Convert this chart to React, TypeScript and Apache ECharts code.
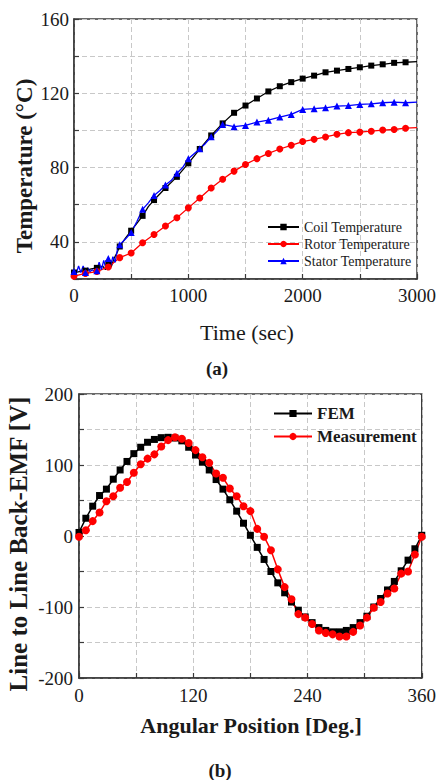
import React, { useEffect, useRef } from "react";
import * as echarts from "echarts";

// ---------- (a) temperature data ----------
const coilTime = [0, 50, 100, 150, 200, 250, 275, 300, 325, 350, 375, 400, 450, 500, 550, 600, 650, 700, 800, 900, 1000, 1100, 1200, 1300, 1400, 1500, 1600, 1700, 1800, 1900, 2000, 2100, 2200, 2300, 2400, 2500, 2600, 2700, 2800, 2900, 3000];
const coilTemp = [23.5, 24, 24.5, 25.5, 26, 27, 25, 28.5, 26.5, 31, 34, 37.5, 42, 46, 50, 54, 59, 62.5, 69, 75, 82.3, 90, 97.3, 103.8, 109.5, 113.4, 117.2, 121, 123.8, 126, 127.9, 129.5, 131.3, 132.2, 133.1, 134, 134.9, 135.6, 136.4, 136.7, 137];

const rotorTime = [0, 100, 200, 300, 400, 500, 600, 700, 800, 900, 1000, 1100, 1200, 1300, 1400, 1500, 1600, 1700, 1800, 1900, 2000, 2100, 2200, 2300, 2400, 2500, 2600, 2700, 2800, 2900, 3000];
const rotorTemp = [21.5, 23, 24, 26.5, 31.5, 34, 39.5, 44, 48.5, 53, 58.3, 63.6, 69, 73.7, 78.1, 81.7, 84.8, 87.6, 90, 92, 94, 95.2, 96.5, 97.9, 98.8, 99.1, 99.6, 100.2, 100.5, 101.2, 101.5];

const statorTime = [0, 20, 40, 60, 80, 100, 120, 140, 160, 180, 200, 220, 240, 260, 280, 300, 320, 340, 360, 380, 400, 450, 500, 550, 600, 650, 700, 750, 800, 850, 900, 950, 1000, 1050, 1100, 1150, 1200, 1250, 1300, 1400, 1500, 1600, 1700, 1800, 1900, 2000, 2100, 2200, 2300, 2400, 2500, 2600, 2700, 2800, 2900, 3000];
const statorTemp = [24, 23, 27, 23.5, 27, 23.5, 26, 24, 25, 24, 24.5, 29, 25, 30, 25.5, 31, 27, 32, 29, 36, 38.5, 41.5, 45, 51, 57.5, 61, 65, 67.5, 70.6, 73, 76.9, 80, 84.8, 87.5, 90.1, 93, 96.6, 99.5, 103.2, 102, 102.7, 104.5, 105.5, 107.2, 108.6, 111.3, 111.7, 112.2, 113.1, 113.4, 114, 114.3, 114.9, 115.2, 114.9, 115.2];

const tempXTicks = [0, 1000, 2000, 3000];
const tempYTicks = [40, 80, 120, 160];

// ---------- (b) back-EMF data ----------
const angles = [0, 7.2, 14.4, 21.6, 28.8, 36, 43.2, 50.4, 57.6, 64.8, 72, 79.2, 86.4, 93.6, 100.8, 108, 115.2, 122.4, 129.6, 136.8, 144, 151.2, 158.4, 165.6, 172.8, 180, 187.2, 194.4, 201.6, 208.8, 216, 223.2, 230.4, 237.6, 244.8, 252, 259.2, 266.4, 273.6, 280.8, 288, 295.2, 302.4, 309.6, 316.8, 324, 331.2, 338.4, 345.6, 352.8, 360];
const femEmf = [5, 25, 42, 57, 66, 80, 93, 105, 116, 125, 132, 136, 138.5, 139, 138, 134, 125, 114, 104, 93, 79.5, 66, 51, 35, 18, 1, -16, -33, -50, -66, -80, -93, -104.5, -114, -122, -129, -133, -135, -135, -133, -129, -122, -113, -100, -88, -76, -64, -49, -34, -18, 1];
const measEmf = [-1, 8, 21, 33, 49, 56, 68, 76, 89, 101, 109, 115, 126, 135, 139, 137, 131, 121, 111, 103, 88, 82, 67, 56, 42, 35, 10, -1, -20, -47, -72, -89, -110, -115, -124, -133, -136.5, -138.5, -141.5, -141.5, -135, -126, -115, -101, -93, -81, -74, -53, -50, -26, -1];

const emfXTicks = [0, 120, 240, 360];
const emfYTicks = [-200, -100, 0, 100, 200];

const FONT = '"Liberation Serif", "Times New Roman", Times, serif';
const TXT = "#1a1a1a";
const FRAME = "#3a3a3a";

function markedData(times: number[], vals: number[], sym: string, every: number, last: number) {
  return times.map((t, i) => ({
    value: [t, vals[i]],
    symbol: t % every === 0 && t < last ? sym : "none",
  }));
}

function axisCommon(gridIndex: number, min: number, max: number, interval: number, ticks: number[], margin: number) {
  return {
    type: "value",
    gridIndex,
    min,
    max,
    interval,
    axisLine: { show: true, onZero: false, lineStyle: { color: FRAME, width: 1.5 } },
    axisTick: { show: true, inside: true, length: 5, lineStyle: { color: FRAME, width: 1.2 } },
    axisLabel: {
      fontFamily: FONT,
      fontSize: 19,
      color: TXT,
      margin,
      showMinLabel: true,
      showMaxLabel: true,
      formatter: (v: number) => (ticks.indexOf(v) >= 0 ? String(v) : ""),
    },
    splitLine: { show: true, lineStyle: { color: "#c8c8c8", width: 1, type: [5, 3] } },
  };
}

export default function App() {
  const ref = useRef<HTMLDivElement>(null);
  useEffect(() => {
    document.body.style.margin = "0";
    if (!ref.current) return;
    const chart = echarts.init(ref.current, undefined, { renderer: "svg" });
    const option: any = {
      animation: false,
      backgroundColor: "#ffffff",
      grid: [
        { left: 74, top: 19, width: 344, height: 260, show: true, borderColor: FRAME, borderWidth: 1.5, backgroundColor: "transparent" },
        { left: 79, top: 394, width: 344, height: 284, show: true, borderColor: FRAME, borderWidth: 1.5, backgroundColor: "transparent" },
      ],
      xAxis: [
        axisCommon(0, 0, 3000, 500, tempXTicks, 7),
        axisCommon(1, 0, 360, 60, emfXTicks, 8),
      ],
      yAxis: [
        axisCommon(0, 20, 160, 20, tempYTicks, 5),
        axisCommon(1, -200, 200, 50, emfYTicks, 6),
      ],
      legend: [
        {
          data: ["Coil Temperature", "Rotor Temperature", "Stator Temperature"],
          orient: "vertical",
          left: 262,
          top: 215,
          itemWidth: 31,
          itemHeight: 8,
          itemGap: 3,
          textStyle: { fontFamily: FONT, fontSize: 14, color: TXT },
        },
        {
          data: ["FEM", "Measurement"],
          orient: "vertical",
          left: 268,
          top: 400,
          itemWidth: 38,
          itemHeight: 9,
          itemGap: 6,
          textStyle: { fontFamily: FONT, fontSize: 17, fontWeight: "bold", color: TXT },
        },
      ],
      series: [
        {
          name: "Coil Temperature",
          type: "line",
          xAxisIndex: 0,
          yAxisIndex: 0,
          data: markedData(coilTime, coilTemp, "rect", 100, 3000),
          symbol: "rect",
          symbolSize: 6,
          showAllSymbol: true,
          color: "#000000",
          lineStyle: { color: "#000000", width: 1.3 },
          itemStyle: { color: "#000000" },
        },
        {
          name: "Rotor Temperature",
          type: "line",
          xAxisIndex: 0,
          yAxisIndex: 0,
          data: markedData(rotorTime, rotorTemp, "circle", 100, 3000),
          symbol: "circle",
          symbolSize: 7,
          showAllSymbol: true,
          color: "#ff0000",
          lineStyle: { color: "#ff0000", width: 1.3 },
          itemStyle: { color: "#ff0000" },
        },
        {
          name: "Stator Temperature",
          type: "line",
          xAxisIndex: 0,
          yAxisIndex: 0,
          data: markedData(statorTime, statorTemp, "triangle", 100, 3000),
          symbol: "triangle",
          symbolSize: 7,
          showAllSymbol: true,
          color: "#0000ff",
          lineStyle: { color: "#0000ff", width: 1.3 },
          itemStyle: { color: "#0000ff" },
        },
        {
          name: "FEM",
          type: "line",
          xAxisIndex: 1,
          yAxisIndex: 1,
          data: angles.map((a, i) => [a, femEmf[i]]),
          symbol: "rect",
          symbolSize: 7,
          showAllSymbol: true,
          color: "#000000",
          lineStyle: { color: "#000000", width: 1.5 },
          itemStyle: { color: "#000000" },
        },
        {
          name: "Measurement",
          type: "line",
          xAxisIndex: 1,
          yAxisIndex: 1,
          data: angles.map((a, i) => [a, measEmf[i]]),
          symbol: "circle",
          symbolSize: 8,
          showAllSymbol: true,
          color: "#ff0000",
          lineStyle: { color: "#ff0000", width: 1.5 },
          itemStyle: { color: "#ff0000" },
        },
      ],
      graphic: [
        {
          type: "text",
          x: 24,
          y: 166,
          rotation: Math.PI / 2,
          style: { text: "Temperature (°C)", fontFamily: FONT, fontSize: 23, fontWeight: "bold", fill: TXT, align: "center", verticalAlign: "middle", textAlign: "center", textVerticalAlign: "middle" },
        },
        {
          type: "text",
          x: 247,
          y: 332,
          style: { text: "Time (sec)", fontFamily: FONT, fontSize: 22, fill: TXT, align: "center", verticalAlign: "middle", textAlign: "center", textVerticalAlign: "middle" },
        },
        {
          type: "text",
          x: 217,
          y: 368,
          style: { text: "(a)", fontFamily: FONT, fontSize: 19, fontWeight: "bold", fill: TXT, align: "center", verticalAlign: "middle", textAlign: "center", textVerticalAlign: "middle" },
        },
        {
          type: "text",
          x: 18,
          y: 544,
          rotation: Math.PI / 2,
          style: { text: "Line to Line Back-EMF [V]", fontFamily: FONT, fontSize: 25, fontWeight: "bold", fill: TXT, align: "center", verticalAlign: "middle", textAlign: "center", textVerticalAlign: "middle" },
        },
        {
          type: "text",
          x: 251,
          y: 725,
          style: { text: "Angular Position [Deg.]", fontFamily: FONT, fontSize: 22, fontWeight: "bold", fill: TXT, align: "center", verticalAlign: "middle", textAlign: "center", textVerticalAlign: "middle" },
        },
        {
          type: "text",
          x: 220,
          y: 770,
          style: { text: "(b)", fontFamily: FONT, fontSize: 19, fontWeight: "bold", fill: TXT, align: "center", verticalAlign: "middle", textAlign: "center", textVerticalAlign: "middle" },
        },
      ],
    };
    chart.setOption(option);
    return () => {
      chart.dispose();
    };
  }, []);
  return <div ref={ref} style={{ width: 439, height: 780 }} />;
}
